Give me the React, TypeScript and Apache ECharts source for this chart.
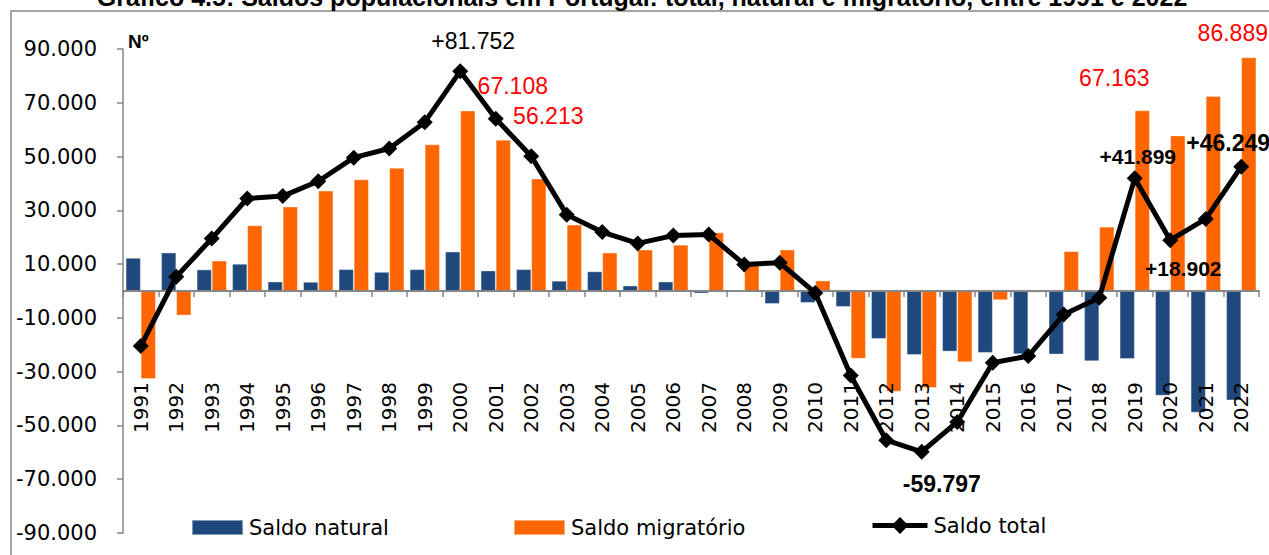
import React, { useEffect, useRef } from 'react';
import * as echarts from 'echarts';

const years = [
  '1991', '1992', '1993', '1994', '1995', '1996', '1997', '1998', '1999', '2000',
  '2001', '2002', '2003', '2004', '2005', '2006', '2007', '2008', '2009', '2010',
  '2011', '2012', '2013', '2014', '2015', '2016', '2017', '2018', '2019', '2020',
  '2021', '2022',
];

const saldoNatural = [
  12300, 14300, 8000, 10100, 3500, 3400, 8100, 7100, 8100, 14644,
  7600, 8100, 3800, 7300, 2000, 3500, -900, 200, -4800, -4400,
  -5900, -17800, -23756, -22500, -23000, -23500, -23600, -26100, -25264, -38932,
  -45220, -40640,
];

const saldoMigratorio = [
  -32700, -9100, 11300, 24400, 31400, 37300, 41500, 45800, 54500, 67108,
  56213, 41800, 24700, 14300, 15400, 17200, 21800, 9900, 15400, 3900,
  -25200, -37400, -36041, -26500, -3400, -600, 14800, 23900, 67163, 57834,
  72481, 86889,
];

const saldoTotal = [
  -20500, 5300, 19500, 34400, 35300, 40800, 49600, 53000, 62800, 81752,
  64100, 50100, 28400, 21900, 17700, 20600, 21000, 9900, 10500, -700,
  -31400, -55500, -59797, -48700, -26700, -24200, -8700, -2500, 41899, 18902,
  26800, 46249,
];

const yMin = -90000;
const yMax = 90000;
const yStep = 20000;

const seriesNames = ['Saldo natural', 'Saldo migratório', 'Saldo total'];
const titleText =
  'Gráfico 4.5: Saldos populacionais em Portugal: total, natural e migratório, entre 1991 e 2022';

// label placement (offsets in px from anchor)
const migLabelOffsets: Record<string, [number, number]> = {
  '2000': [45, -13],
  '2001': [45, -12],
  '2019': [-28, -21],
  '2022': [-16, -13],
};
const totalLabelOffsets: Record<string, [number, number]> = {
  '2000': [13, -30],
  '2013': [20, 32],
  '2019': [3, -22],
  '2020': [13, 28],
  '2022': [-13, -24],
};
const totalLabelSizes: Record<string, number> = {
  '2000': 23,
  '2013': 23,
  '2019': 21,
  '2020': 21,
  '2022': 23,
};

const fmt = (v: number) => {
  const s = Math.abs(Math.round(v))
    .toString()
    .replace(/\B(?=(\d{3})+(?!\d))/g, '.');
  return (v < 0 ? '-' : '') + s;
};

const AXIS_GREY = '#868686';
const GRID_LEFT = 123;
const GRID_RIGHT = 10;
const GRID_TOP = 49;
const GRID_HEIGHT = 484;

export default function App() {
  const ref = useRef<HTMLDivElement>(null);

  useEffect(() => {
    if (!ref.current) return;
    const chart = echarts.init(ref.current, null, { renderer: 'svg' });

    const migData = saldoMigratorio.map((v, i) => {
      const off = migLabelOffsets[years[i]];
      if (!off) return v;
      return {
        value: v,
        label: {
          show: true,
          position: 'top',
          distance: 0,
          offset: off,
          formatter: fmt(v),
          color: '#FF0000',
          fontFamily: 'Liberation Sans',
          fontSize: 23,
        },
      };
    });

    const totData = saldoTotal.map((v, i) => {
      const off = totalLabelOffsets[years[i]];
      if (!off) return v;
      const y = years[i];
      const bold = y !== '2000';
      return {
        value: v,
        label: {
          show: true,
          position: 'inside',
          offset: off,
          formatter: (v > 0 ? '+' : '') + fmt(v),
          color: '#000000',
          fontFamily: 'Liberation Sans',
          fontWeight: bold ? 'bold' : 'normal',
          fontSize: totalLabelSizes[y],
        },
      };
    });

    const legendBase = {
      orient: 'horizontal',
      top: 517,
      padding: 0,
      itemGap: 0,
      itemWidth: 51,
      itemHeight: 15,
      selectedMode: false,
      textStyle: {
        fontFamily: 'DejaVu Sans',
        fontSize: 21,
        color: '#000',
        padding: [0, 0, 0, 1],
      },
    };

    chart.setOption({
      animation: false,
      backgroundColor: '#ffffff',
      grid: [
        {
          left: GRID_LEFT,
          right: GRID_RIGHT,
          top: GRID_TOP,
          height: GRID_HEIGHT,
          containLabel: false,
          outerBoundsMode: 'none',
        },
        {
          left: GRID_LEFT,
          right: GRID_RIGHT,
          top: GRID_TOP,
          height: GRID_HEIGHT / 2,
          containLabel: false,
          outerBoundsMode: 'none',
        },
      ],
      legend: [
        { ...legendBase, left: 191, data: [{ name: seriesNames[0], icon: 'rect' }] },
        { ...legendBase, left: 513, data: [{ name: seriesNames[1], icon: 'rect' }] },
        {
          ...legendBase,
          left: 870,
          top: 515,
          itemWidth: 55,
          itemHeight: 21,
          data: [seriesNames[2]],
          lineStyle: { width: 5, color: '#000' },
        },
      ],
      graphic: [
        {
          type: 'rect',
          silent: true,
          shape: { x: 11, y: 11, width: 1400, height: 700 },
          style: { fill: 'none', stroke: AXIS_GREY, lineWidth: 1.5 },
        },
        {
          type: 'text',
          silent: true,
          x: 642,
          y: -3,
          style: {
            text: titleText,
            align: 'center',
            verticalAlign: 'middle',
            font: 'bold 25px "Liberation Sans"',
            fill: '#000',
          },
        },
        {
          type: 'text',
          silent: true,
          x: 128,
          y: 41,
          style: {
            text: 'Nº',
            align: 'left',
            verticalAlign: 'middle',
            font: 'bold 19px "Liberation Sans"',
            fill: '#000',
          },
        },
      ],
      xAxis: [
        {
          type: 'category',
          gridIndex: 0,
          data: years,
          axisLine: { show: false },
          axisTick: { show: false },
          axisLabel: { show: false },
          splitLine: { show: false },
        },
        {
          type: 'category',
          gridIndex: 1,
          data: years,
          position: 'bottom',
          axisLine: { show: true, onZero: false, lineStyle: { color: AXIS_GREY, width: 2 } },
          axisTick: { show: true, length: 6, lineStyle: { color: AXIS_GREY, width: 1.5 } },
          axisLabel: {
            interval: 0,
            rotate: 90,
            margin: 91,
            fontFamily: 'DejaVu Sans',
            fontSize: 20,
            color: '#000',
          },
          splitLine: { show: false },
          z: 3,
        },
      ],
      yAxis: [
        {
          type: 'value',
          gridIndex: 0,
          min: yMin,
          max: yMax,
          interval: yStep,
          axisLine: { show: true, lineStyle: { color: AXIS_GREY, width: 1.5 } },
          axisTick: { show: true, length: 6, lineStyle: { color: AXIS_GREY, width: 1.5 } },
          axisLabel: {
            margin: 26,
            fontFamily: 'DejaVu Sans',
            fontSize: 21,
            color: '#000',
            formatter: (v: number) => fmt(v),
          },
          splitLine: { show: false },
        },
        {
          type: 'value',
          gridIndex: 1,
          min: 0,
          max: 1,
          show: false,
        },
      ],
      series: [
        {
          name: seriesNames[0],
          type: 'bar',
          data: saldoNatural,
          barGap: '0%',
          barCategoryGap: '15%',
          itemStyle: { color: '#1F497D', borderColor: 'rgba(255,255,255,0.45)', borderWidth: 0.8 },
          z: 2,
        },
        {
          name: seriesNames[1],
          type: 'bar',
          data: migData,
          barGap: '0%',
          barCategoryGap: '15%',
          itemStyle: { color: '#FF6600', borderColor: 'rgba(255,255,255,0.45)', borderWidth: 0.8 },
          z: 2,
        },
        {
          name: seriesNames[2],
          type: 'line',
          data: totData,
          symbol: 'diamond',
          symbolSize: 16,
          showAllSymbol: true,
          lineStyle: { color: '#000', width: 5 },
          itemStyle: { color: '#000' },
          z: 5,
        },
        {
          type: 'line',
          xAxisIndex: 1,
          yAxisIndex: 1,
          data: [],
          silent: true,
        },
      ],
    });

    return () => chart.dispose();
  }, []);

  return (
    <div
      ref={ref}
      style={{ position: 'absolute', left: 0, top: 0, width: 1269, height: 555 }}
    />
  );
}
